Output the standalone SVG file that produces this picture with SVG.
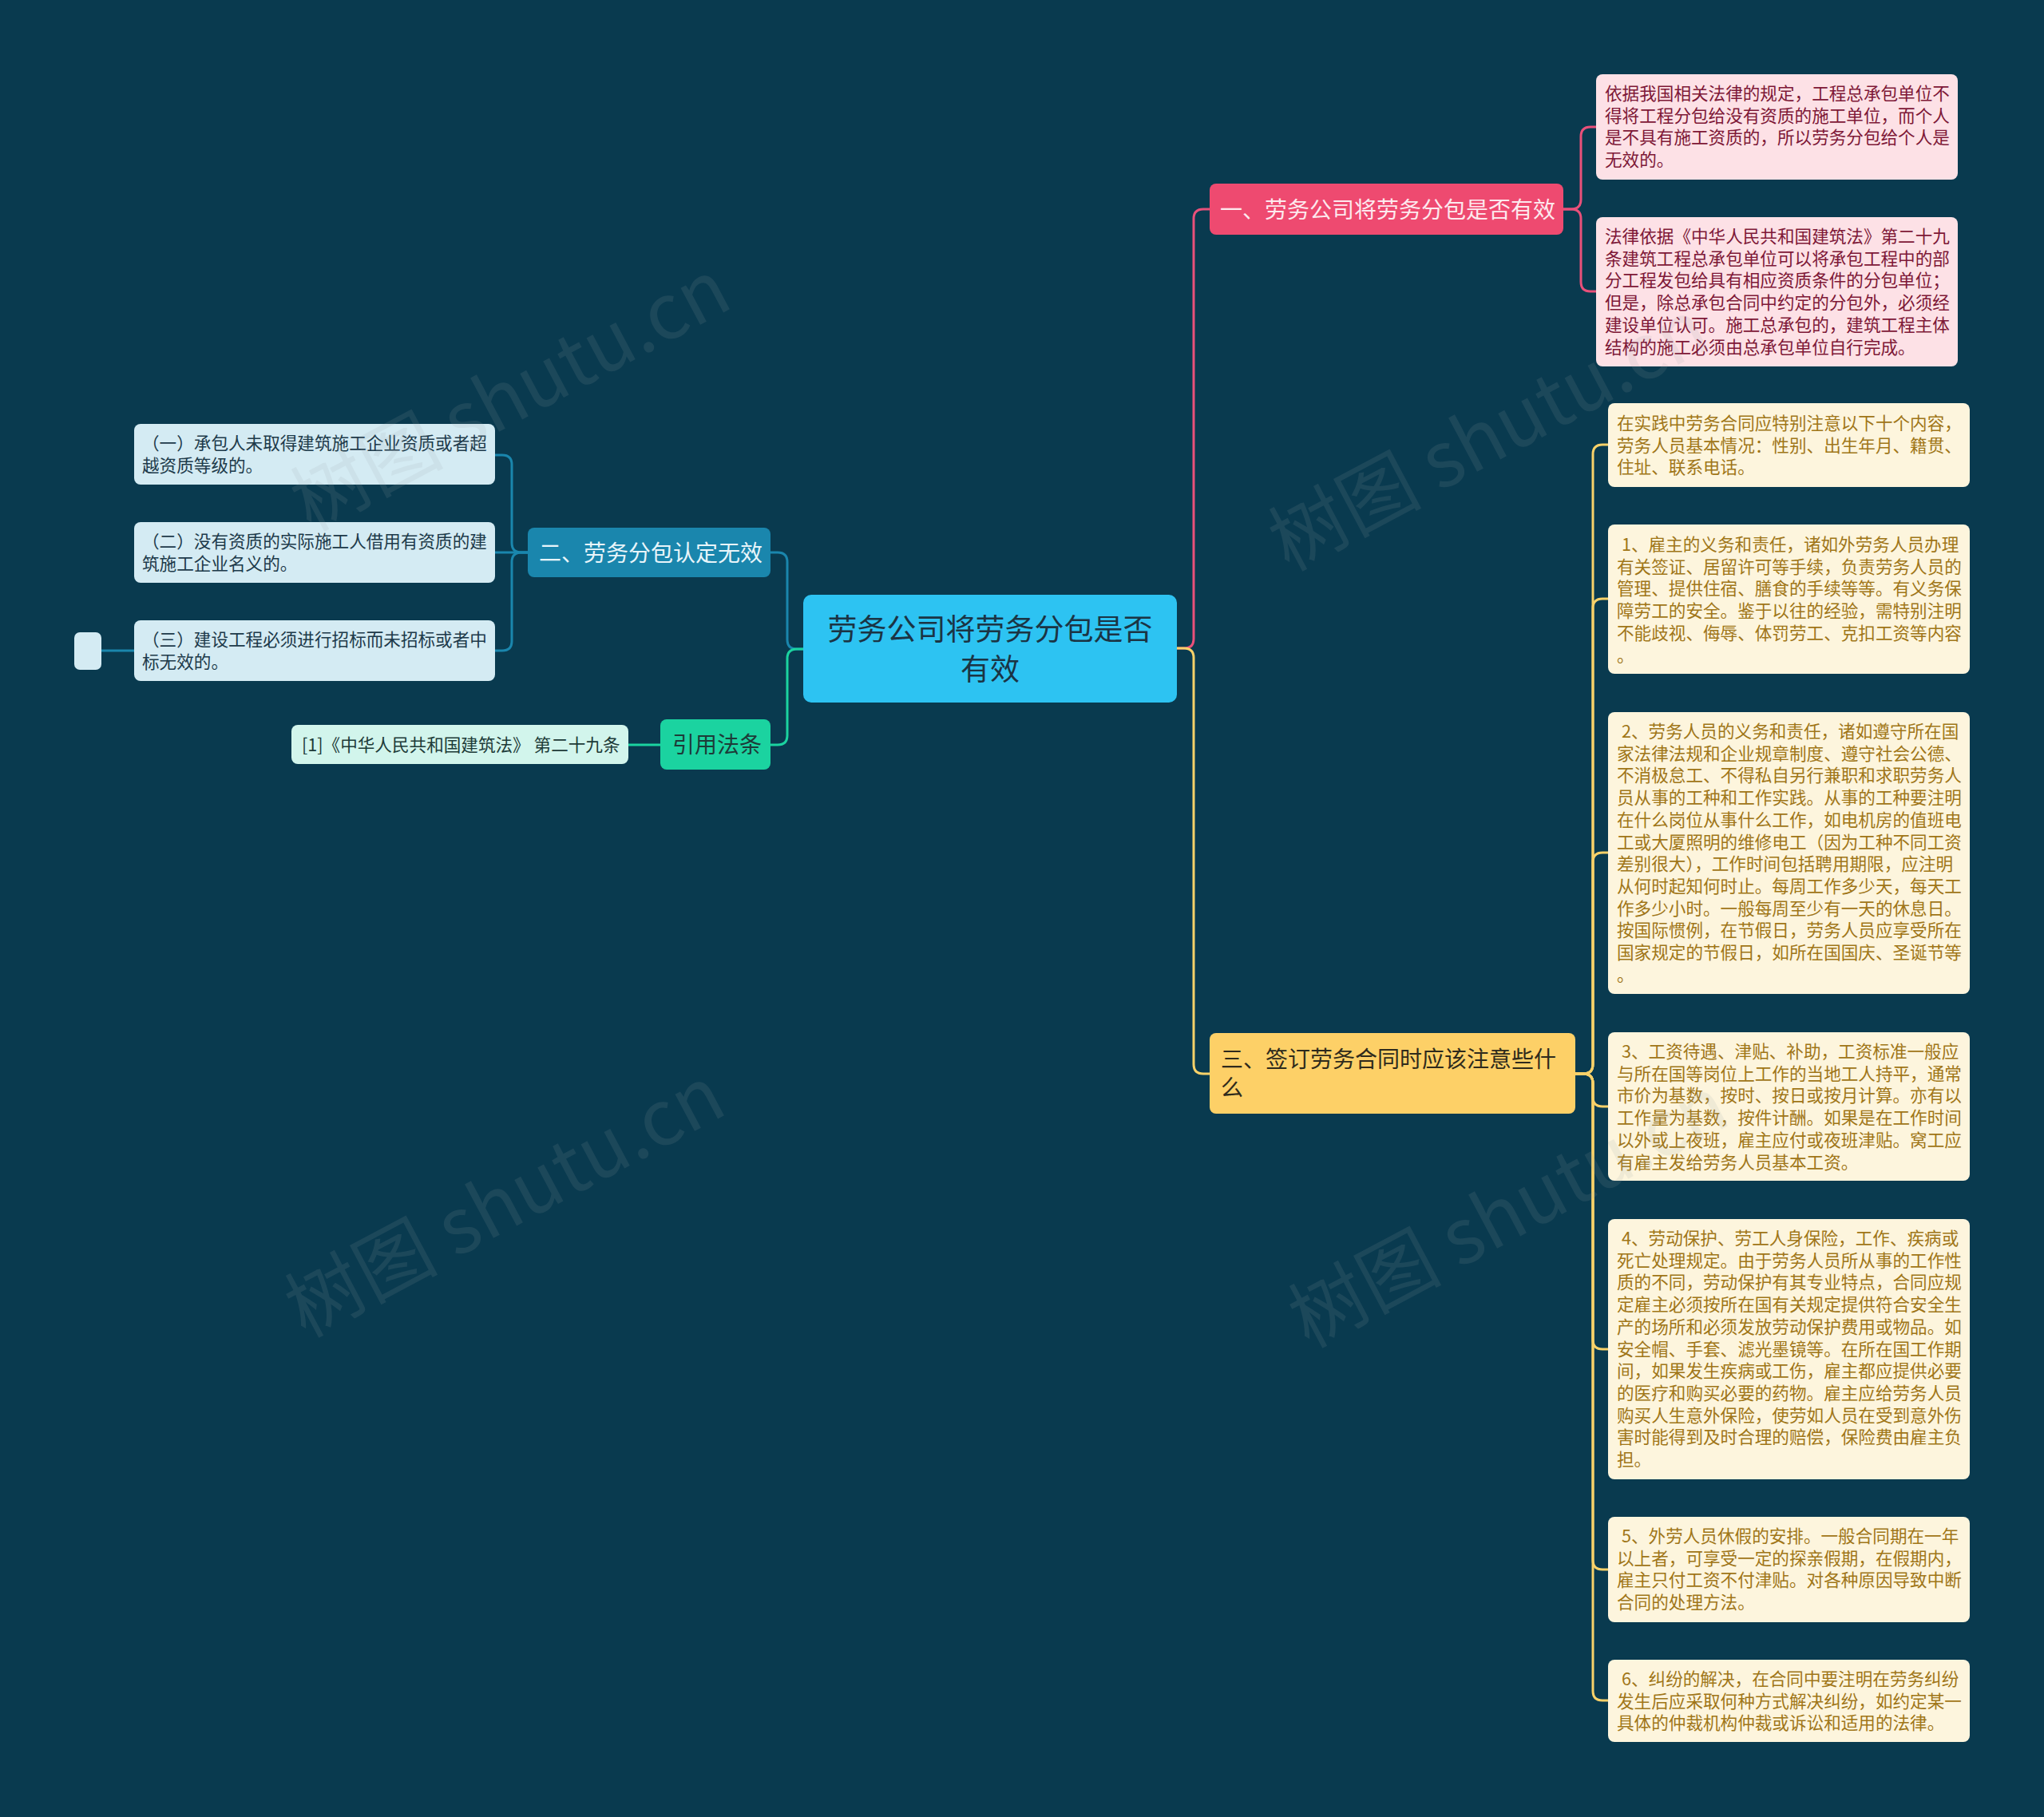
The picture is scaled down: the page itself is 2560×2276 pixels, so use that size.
<svg xmlns="http://www.w3.org/2000/svg" width="2560" height="2276" viewBox="0 0 2560 2276">
<style>
text{font-family:"Noto Sans CJK SC","Noto Sans",sans-serif;}
.c{fill:none;stroke-width:3;}
.cp{stroke:#e9507a;}
.cy{stroke:#f8d169;}
.cb{stroke:#1a86ad;}
.cg{stroke:#1bd3a0;}
.t{font-size:21.6px;}
.pk{fill:#fde1e6;}
.pkt{fill:#7e1837;}
.yl{fill:#fdf5dd;}
.ylt{fill:#a07618;}
.bl{fill:#d4ebf3;}
.blt{fill:#1d3a4a;}
.wm{font-size:96px;fill:#9aa4a8;opacity:0.13;}
</style>
<rect width="2560" height="2276" fill="#093a4f"/>
<g id="connectors">
<path class="c cp" d="M1474,812 H1483 Q1495,812 1495,800 V274 Q1495,262 1507,262 H1515"/>
<path class="c cy" d="M1474,812 H1483 Q1495,812 1495,824 V1333 Q1495,1345 1507,1345 H1515"/>
<path class="c cb" d="M1006,813 H998 Q986,813 986,801 V704 Q986,692 974,692 H965"/>
<path class="c cg" d="M1006,813 H998 Q986,813 986,825 V921 Q986,933 974,933 H965"/>
<path class="c cg" d="M827,933 H787"/>
<path class="c cp" d="M1958,262 H1968 Q1980,262 1980,250 V171 Q1980,159 1992,159 H1999"/>
<path class="c cp" d="M1958,262 H1968 Q1980,262 1980,274 V353 Q1980,365 1992,365 H1999"/>
<path class="c cy" d="M1973,1345 H1983 Q1995,1345 1995,1333 V569 Q1995,557 2007,557 H2014"/>
<path class="c cy" d="M1973,1345 H1983 Q1995,1345 1995,1333 V762 Q1995,750 2007,750 H2014"/>
<path class="c cy" d="M1973,1345 H1983 Q1995,1345 1995,1333 V1080 Q1995,1068 2007,1068 H2014"/>
<path class="c cy" d="M1973,1345 H1983 Q1995,1345 1995,1357 V1374 Q1995,1386 2007,1386 H2014"/>
<path class="c cy" d="M1973,1345 H1983 Q1995,1345 1995,1357 V1678 Q1995,1690 2007,1690 H2014"/>
<path class="c cy" d="M1973,1345 H1983 Q1995,1345 1995,1357 V1954 Q1995,1966 2007,1966 H2014"/>
<path class="c cy" d="M1973,1345 H1983 Q1995,1345 1995,1357 V2118 Q1995,2130 2007,2130 H2014"/>
<path class="c cb" d="M661,692 H653 Q641,692 641,680 V582 Q641,570 629,570 H620"/>
<path class="c cb" d="M661,692 H620"/>
<path class="c cb" d="M661,692 H653 Q641,692 641,704 V803 Q641,815 629,815 H620"/>
<path class="c cb" d="M168,815 H127"/>
</g>
<g id="root">
<rect x="1006" y="745" width="468" height="135" rx="10" fill="#2dc3f2"/>
<text x="1240" y="802" font-size="37" fill="#1b3444" text-anchor="middle">劳务公司将劳务分包是否</text>
<text x="1240" y="852" font-size="37" fill="#1b3444" text-anchor="middle">有效</text>
</g>
<g id="b1">
<rect x="1515" y="230" width="443" height="64" rx="8" fill="#ee4a70"/>
<text x="1528" y="273" font-size="28" fill="#fde9ee">一、劳务公司将劳务分包是否有效</text>
</g>
<g id="b1c1">
<rect x="1999" y="93" width="453" height="132" rx="8" class="pk"/>
<text class="t pkt" x="2010" y="125"><tspan x="2010">依据我国相关法律的规定，工程总承包单位不</tspan><tspan x="2010" dy="27.7">得将工程分包给没有资质的施工单位，而个人</tspan><tspan x="2010" dy="27.7">是不具有施工资质的，所以劳务分包给个人是</tspan><tspan x="2010" dy="27.7">无效的。</tspan></text>
</g>
<g id="b1c2">
<rect x="1999" y="272" width="453" height="187" rx="8" class="pk"/>
<text class="t pkt" x="2010" y="304"><tspan x="2010">法律依据《中华人民共和国建筑法》第二十九</tspan><tspan x="2010" dy="27.7">条建筑工程总承包单位可以将承包工程中的部</tspan><tspan x="2010" dy="27.7">分工程发包给具有相应资质条件的分包单位；</tspan><tspan x="2010" dy="27.7">但是，除总承包合同中约定的分包外，必须经</tspan><tspan x="2010" dy="27.7">建设单位认可。施工总承包的，建筑工程主体</tspan><tspan x="2010" dy="27.7">结构的施工必须由总承包单位自行完成。</tspan></text>
</g>
<g id="b3">
<rect x="1515" y="1294" width="458" height="101" rx="8" fill="#fdd067"/>
<text x="1529" y="1337" font-size="28" fill="#2e2a1c"><tspan x="1529">三、签订劳务合同时应该注意些什</tspan><tspan x="1529" dy="36">么</tspan></text>
</g>
<g id="b3c0">
<rect x="2014" y="505" width="453" height="105" rx="8" class="yl"/>
<text class="t ylt" x="2025" y="538"><tspan x="2025">在实践中劳务合同应特别注意以下十个内容，</tspan><tspan x="2025" dy="27.7">劳务人员基本情况：性别、出生年月、籍贯、</tspan><tspan x="2025" dy="27.7">住址、联系电话。</tspan></text>
</g>
<g id="b3c1">
<rect x="2014" y="657" width="453" height="187" rx="8" class="yl"/>
<text class="t ylt" x="2025" y="690"><tspan x="2031">1、雇主的义务和责任，诸如外劳务人员办理</tspan><tspan x="2025" dy="27.7">有关签证、居留许可等手续，负责劳务人员的</tspan><tspan x="2025" dy="27.7">管理、提供住宿、膳食的手续等等。有义务保</tspan><tspan x="2025" dy="27.7">障劳工的安全。鉴于以往的经验，需特别注明</tspan><tspan x="2025" dy="27.7">不能歧视、侮辱、体罚劳工、克扣工资等内容</tspan><tspan x="2025" dy="27.7">。</tspan></text>
</g>
<g id="b3c2">
<rect x="2014" y="892" width="453" height="353" rx="8" class="yl"/>
<text class="t ylt" x="2025" y="924"><tspan x="2031">2、劳务人员的义务和责任，诸如遵守所在国</tspan><tspan x="2025" dy="27.7">家法律法规和企业规章制度、遵守社会公德、</tspan><tspan x="2025" dy="27.7">不消极怠工、不得私自另行兼职和求职劳务人</tspan><tspan x="2025" dy="27.7">员从事的工种和工作实践。从事的工种要注明</tspan><tspan x="2025" dy="27.7">在什么岗位从事什么工作，如电机房的值班电</tspan><tspan x="2025" dy="27.7">工或大厦照明的维修电工（因为工种不同工资</tspan><tspan x="2025" dy="27.7">差别很大），工作时间包括聘用期限，应注明</tspan><tspan x="2025" dy="27.7">从何时起知何时止。每周工作多少天，每天工</tspan><tspan x="2025" dy="27.7">作多少小时。一般每周至少有一天的休息日。</tspan><tspan x="2025" dy="27.7">按国际惯例，在节假日，劳务人员应享受所在</tspan><tspan x="2025" dy="27.7">国家规定的节假日，如所在国国庆、圣诞节等</tspan><tspan x="2025" dy="27.7">。</tspan></text>
</g>
<g id="b3c3">
<rect x="2014" y="1293" width="453" height="186" rx="8" class="yl"/>
<text class="t ylt" x="2025" y="1325"><tspan x="2031">3、工资待遇、津贴、补助，工资标准一般应</tspan><tspan x="2025" dy="27.7">与所在国等岗位上工作的当地工人持平，通常</tspan><tspan x="2025" dy="27.7">市价为基数，按时、按日或按月计算。亦有以</tspan><tspan x="2025" dy="27.7">工作量为基数，按件计酬。如果是在工作时间</tspan><tspan x="2025" dy="27.7">以外或上夜班，雇主应付或夜班津贴。窝工应</tspan><tspan x="2025" dy="27.7">有雇主发给劳务人员基本工资。</tspan></text>
</g>
<g id="b3c4">
<rect x="2014" y="1527" width="453" height="326" rx="8" class="yl"/>
<text class="t ylt" x="2025" y="1559"><tspan x="2031">4、劳动保护、劳工人身保险，工作、疾病或</tspan><tspan x="2025" dy="27.7">死亡处理规定。由于劳务人员所从事的工作性</tspan><tspan x="2025" dy="27.7">质的不同，劳动保护有其专业特点，合同应规</tspan><tspan x="2025" dy="27.7">定雇主必须按所在国有关规定提供符合安全生</tspan><tspan x="2025" dy="27.7">产的场所和必须发放劳动保护费用或物品。如</tspan><tspan x="2025" dy="27.7">安全帽、手套、滤光墨镜等。在所在国工作期</tspan><tspan x="2025" dy="27.7">间，如果发生疾病或工伤，雇主都应提供必要</tspan><tspan x="2025" dy="27.7">的医疗和购买必要的药物。雇主应给劳务人员</tspan><tspan x="2025" dy="27.7">购买人生意外保险，使劳如人员在受到意外伤</tspan><tspan x="2025" dy="27.7">害时能得到及时合理的赔偿，保险费由雇主负</tspan><tspan x="2025" dy="27.7">担。</tspan></text>
</g>
<g id="b3c5">
<rect x="2014" y="1900" width="453" height="132" rx="8" class="yl"/>
<text class="t ylt" x="2025" y="1932"><tspan x="2031">5、外劳人员休假的安排。一般合同期在一年</tspan><tspan x="2025" dy="27.7">以上者，可享受一定的探亲假期，在假期内，</tspan><tspan x="2025" dy="27.7">雇主只付工资不付津贴。对各种原因导致中断</tspan><tspan x="2025" dy="27.7">合同的处理方法。</tspan></text>
</g>
<g id="b3c6">
<rect x="2014" y="2079" width="453" height="103" rx="8" class="yl"/>
<text class="t ylt" x="2025" y="2111"><tspan x="2031">6、纠纷的解决，在合同中要注明在劳务纠纷</tspan><tspan x="2025" dy="27.7">发生后应采取何种方式解决纠纷，如约定某一</tspan><tspan x="2025" dy="27.7">具体的仲裁机构仲裁或诉讼和适用的法律。</tspan></text>
</g>
<g id="b2">
<rect x="661" y="661" width="304" height="62" rx="8" fill="#1a86ad"/>
<text x="675" y="703" font-size="28" fill="#e8f5fa">二、劳务分包认定无效</text>
</g>
<g id="b2c1">
<rect x="168" y="531" width="452" height="76" rx="8" class="bl"/>
<text class="t blt" x="178" y="563"><tspan x="178">（一）承包人未取得建筑施工企业资质或者超</tspan><tspan x="178" dy="27.7">越资质等级的。</tspan></text>
</g>
<g id="b2c2">
<rect x="168" y="654" width="452" height="76" rx="8" class="bl"/>
<text class="t blt" x="178" y="686"><tspan x="178">（二）没有资质的实际施工人借用有资质的建</tspan><tspan x="178" dy="27.7">筑施工企业名义的。</tspan></text>
</g>
<g id="b2c3">
<rect x="168" y="777" width="452" height="76" rx="8" class="bl"/>
<text class="t blt" x="178" y="809"><tspan x="178">（三）建设工程必须进行招标而未招标或者中</tspan><tspan x="178" dy="27.7">标无效的。</tspan></text>
</g>
<g id="b2c3a">
<rect x="93" y="792" width="34" height="47" rx="7" class="bl"/>
</g>
<g id="b4">
<rect x="827" y="901" width="138" height="63" rx="8" fill="#1bd3a0"/>
<text x="842" y="943" font-size="28" fill="#1d3b38">引用法条</text>
</g>
<g id="b4c1">
<rect x="365" y="908" width="422" height="49" rx="8" fill="#d2f5ec"/>
<text x="378" y="941" font-size="21.6" fill="#1d3b38">[1]《中华人民共和国建筑法》 第二十九条</text>
</g>
<g id="watermarks">
<text class="wm" x="655" y="525" text-anchor="middle" transform="rotate(-28 655 525)">树图 shutu.cn</text>
<text class="wm" x="648" y="1535" text-anchor="middle" transform="rotate(-28 648 1535)">树图 shutu.cn</text>
<text class="wm" x="1880" y="575" text-anchor="middle" transform="rotate(-28 1880 575)">树图 shutu.cn</text>
<text class="wm" x="1905" y="1548" text-anchor="middle" transform="rotate(-28 1905 1548)">树图 shutu.cn</text>
</g>
</svg>
